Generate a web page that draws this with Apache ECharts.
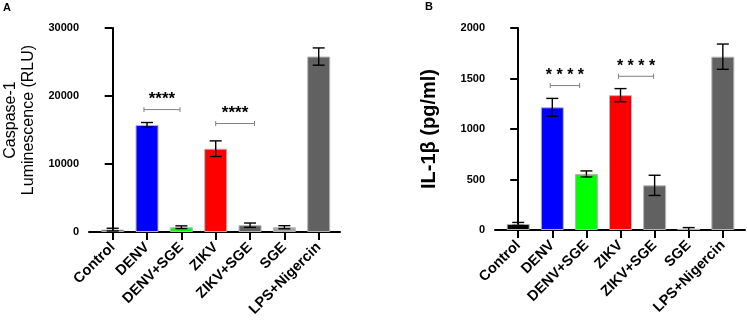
<!DOCTYPE html>
<html><head><meta charset="utf-8">
<script src="https://cdn.jsdelivr.net/npm/echarts@6/dist/echarts.min.js"></script>
<style>html,body{margin:0;padding:0;background:#fff}#c{width:747px;height:328px}</style>
</head><body><div id="c"></div>
<script>
const categories = ['Control','DENV','DENV+SGE','ZIKV','ZIKV+SGE','SGE','LPS+Nigercin'];
const caspaseMean = [350, 15750, 700, 12250, 1000, 700, 25800];
const caspaseErr  = [200, 350, 200, 1150, 320, 230, 1270];
const il1bMean = [60, 1215, 555, 1335, 442, 12, 1716];
const il1bErr  = [15, 88, 30, 65, 100, 12, 125];
const barColors = ['#000000','#0000ff','#00ff00','#ff0000','#616161','#a6a6a6','#616161'];
const caspaseSig = [[0.91, 1.96, 18000], [3.0, 4.13, 15950]];
const caspaseSigLabels = ['****','****'];
const il1bSig = [[0.94, 1.8, 1430], [2.94, 3.97, 1522]];
const il1bSigLabels = ['* * * *','* * * *'];

const FONT = '"Liberation Sans", Arial, Helvetica, sans-serif';
const catIdx = categories.map((c,i)=>i);

function errRender(params, api){
  const x = api.value(0), m = api.value(1), e = api.value(2);
  const top = api.coord([x, m + e]);
  const lo = Math.max(0, m - e);
  const bot = api.coord([x, lo]);
  const hw = 6, st = {stroke:'#000', lineWidth:1.4};
  const ch = [
    {type:'line', shape:{x1:top[0], y1:top[1], x2:bot[0], y2:bot[1]}, style:st},
    {type:'line', shape:{x1:top[0]-hw, y1:top[1], x2:top[0]+hw, y2:top[1]}, style:st}
  ];
  if (lo > 0) ch.push({type:'line', shape:{x1:bot[0]-hw, y1:bot[1], x2:bot[0]+hw, y2:bot[1]}, style:st});
  return {type:'group', children:ch};
}
function sigRenderFactory(labels, font){
  return function(params, api){
    const x1 = api.value(0), x2 = api.value(1), y = api.value(2);
    const p1 = api.coord([x1, y]), p2 = api.coord([x2, y]);
    const st = {stroke:'#808080', lineWidth:1};
    return {type:'group', children:[
      {type:'line', shape:{x1:p1[0], y1:p1[1], x2:p2[0], y2:p2[1]}, style:st},
      {type:'line', shape:{x1:p1[0], y1:p1[1]-2.5, x2:p1[0], y2:p1[1]+2.5}, style:st},
      {type:'line', shape:{x1:p2[0], y1:p2[1]-2.5, x2:p2[0], y2:p2[1]+2.5}, style:st},
      {type:'text', style:{text:labels[params.dataIndex], x:(p1[0]+p2[0])/2, y:p1[1]-2,
        align:'center', verticalAlign:'bottom', font:font, fill:'#000'}}
    ]};
  };
}

function xAxisCfg(gi, min, max){
  return {
    type:'value', gridIndex:gi, min:min, max:max,
    axisLine:{show:true, onZero:false, lineStyle:{color:'#000', width:2}},
    axisTick:{show:true, customValues:catIdx, length:8, lineStyle:{color:'#000', width:2}},
    axisLabel:{show:true, customValues:catIdx, rotate:45, margin:13,
      formatter:v=>categories[Math.round(v)], color:'#000', fontFamily:FONT, fontWeight:'bold', fontSize:14.5},
    splitLine:{show:false}
  };
}
function yAxisCfg(gi, max, interval, name, nameGap, nameStyle){
  return {
    type:'value', gridIndex:gi, min:0, max:max, interval:interval,
    axisLine:{show:true, lineStyle:{color:'#000', width:2}},
    axisTick:{show:true, length:8, lineStyle:{color:'#000', width:2}},
    axisLabel:{color:'#000', fontFamily:FONT, fontWeight:'bold', fontSize:11, margin:10,
      formatter:v=>String(v)},
    splitLine:{show:false},
    name:name, nameLocation:'middle', nameRotate:90, nameGap:nameGap,
    nameTextStyle:Object.assign({color:'#000', fontFamily:FONT}, nameStyle)
  };
}

const chart = echarts.init(document.getElementById('c'), null, {renderer:'canvas'});
chart.setOption({
  animation:false,
  backgroundColor:'#fff',
  title:[
    {text:'A', left:3, top:2, padding:0, textStyle:{fontFamily:FONT, fontWeight:'bold', fontSize:11, color:'#000'}},
    {text:'B', left:425, top:1, padding:0, textStyle:{fontFamily:FONT, fontWeight:'bold', fontSize:11, color:'#000'}}
  ],
  grid:[
    {left:89, top:28, width:251, height:204},
    {left:495, top:28, width:250, height:202}
  ],
  xAxis:[xAxisCfg(0, -0.69, 6.62), xAxisCfg(1, -0.68, 6.65)],
  yAxis:[
    yAxisCfg(0, 30000, 10000, 'Caspase-1\nLuminescence (RLU)', 51, {fontSize:16, lineHeight:18, padding:[0,0,0,20]}),
    yAxisCfg(1, 2000, 500, 'IL-1β (pg/ml)', 56, {fontSize:20, fontWeight:'bold'})
  ],
  series:[
    {type:'bar', xAxisIndex:0, yAxisIndex:0, barWidth:23,
      data:caspaseMean.map((v,i)=>({value:[i, v], itemStyle:{color:barColors[i]}})),
      itemStyle:{borderColor:'#b5b5b5', borderWidth:1}},
    {type:'custom', xAxisIndex:0, yAxisIndex:0, renderItem:errRender, z:5,
      data:caspaseMean.map((v,i)=>[i, v, caspaseErr[i]])},
    {type:'custom', xAxisIndex:0, yAxisIndex:0, renderItem:sigRenderFactory(caspaseSigLabels, 'bold 17px '+FONT), z:5,
      data:caspaseSig},
    {type:'bar', xAxisIndex:1, yAxisIndex:1, barWidth:23,
      data:il1bMean.map((v,i)=>({value:[i, v], itemStyle:{color:barColors[i]}})),
      itemStyle:{borderColor:'#b5b5b5', borderWidth:1}},
    {type:'custom', xAxisIndex:1, yAxisIndex:1, renderItem:errRender, z:5,
      data:il1bMean.map((v,i)=>[i, v, il1bErr[i]])},
    {type:'custom', xAxisIndex:1, yAxisIndex:1, renderItem:sigRenderFactory(il1bSigLabels, 'bold 16px '+FONT), z:5,
      data:il1bSig}
  ]
});
</script></body></html>
